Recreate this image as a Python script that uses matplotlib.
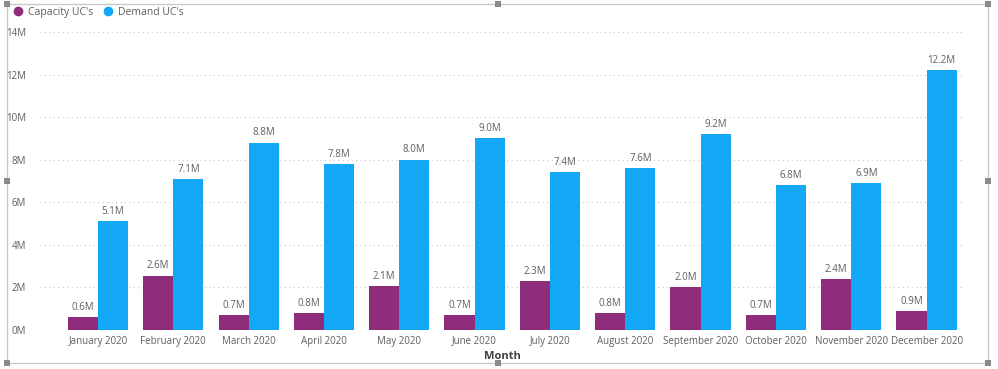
import numpy as np
import matplotlib.pyplot as plt
from matplotlib.patches import Rectangle
from matplotlib.lines import Line2D

# данные графика
months = ["January 2020", "February 2020", "March 2020", "April 2020", "May 2020",
          "June 2020", "July 2020", "August 2020", "September 2020", "October 2020",
          "November 2020", "December 2020"]
capacity = [0.6, 2.55, 0.7, 0.8, 2.05, 0.7, 2.3, 0.8, 2.0, 0.7, 2.4, 0.9]
capacity_labels = ["0.6M", "2.6M", "0.7M", "0.8M", "2.1M", "0.7M", "2.3M", "0.8M", "2.0M", "0.7M", "2.4M", "0.9M"]
demand = [5.1, 7.1, 8.8, 7.8, 8.0, 9.0, 7.4, 7.6, 9.2, 6.8, 6.9, 12.2]
demand_labels = ["5.1M", "7.1M", "8.8M", "7.8M", "8.0M", "9.0M", "7.4M", "7.6M", "9.2M", "6.8M", "6.9M", "12.2M"]
yticks = [0, 2, 4, 6, 8, 10, 12, 14]

purple = '#8D2D7B'
blue = '#12A8F5'
grey_txt = '#605E5C'

plt.rcParams['font.family'] = ['Open Sans', 'DejaVu Sans']

W, H = 998, 369
fig = plt.figure(figsize=(W / 100, H / 100), dpi=100)
fig.patch.set_facecolor('white')

# рамка визуала
fig.patches.append(Rectangle((7 / W, 1 - 363 / H), 981 / W, 359 / H, transform=fig.transFigure,
                             fill=False, edgecolor='#C8C8C8', linewidth=1))
for hx, hy in [(7, 4), (498, 4), (988, 4), (7, 181), (988, 181), (7, 363), (498, 363), (988, 363)]:
    fig.patches.append(Rectangle(((hx - 3) / W, 1 - (hy + 3) / H), 6 / W, 6 / H, transform=fig.transFigure,
                                 facecolor='#8A8A8A', edgecolor='none'))

ax = fig.add_axes([40 / W, 39 / H, 925 / W, 298 / H])
x = np.arange(len(months))
w = 0.4
b1 = ax.bar(x - w / 2, capacity, w, color=purple, zorder=3)
b2 = ax.bar(x + w / 2, demand, w, color=blue, zorder=3)

for rect, lab in zip(b1, capacity_labels):
    ax.text(rect.get_x() + rect.get_width() / 2, rect.get_height() + 0.2, lab,
            ha='center', va='bottom', fontsize=7, color=grey_txt)
for rect, lab in zip(b2, demand_labels):
    ax.text(rect.get_x() + rect.get_width() / 2, rect.get_height() + 0.2, lab,
            ha='center', va='bottom', fontsize=7, color=grey_txt)

ax.set_xlim(-0.77, 11.51)
ax.set_ylim(0, 14)
ax.set_yticks(yticks)
ax.set_yticklabels([f"{v}M" for v in yticks])
ax.set_xticks(x)
ax.set_xticklabels(months)
ax.tick_params(axis='both', length=0, labelsize=7, labelcolor=grey_txt)
ax.tick_params(axis='y', pad=10)
ax.tick_params(axis='x', pad=4)
ax.grid(axis='y', linestyle=(0, (1, 3)), color='#C8C8C8', linewidth=0.8, zorder=0)
for s in ax.spines.values():
    s.set_visible(False)
ax.set_xlabel("Month", fontsize=8, color='#404040', fontweight='bold', labelpad=3)

# легенда
handles = [Line2D([], [], marker='o', linestyle='none', color=purple, markersize=6),
           Line2D([], [], marker='o', linestyle='none', color=blue, markersize=6)]
fig.legend(handles, ["Capacity UC's", "Demand UC's"], loc='upper left', bbox_to_anchor=(5 / W, 1 - 5 / H),
           ncol=2, frameon=False, fontsize=7.5, handletextpad=0.0, columnspacing=0.4,
           labelcolor=grey_txt, borderaxespad=0, borderpad=0.2)

fig.savefig('out.png', dpi=100)
